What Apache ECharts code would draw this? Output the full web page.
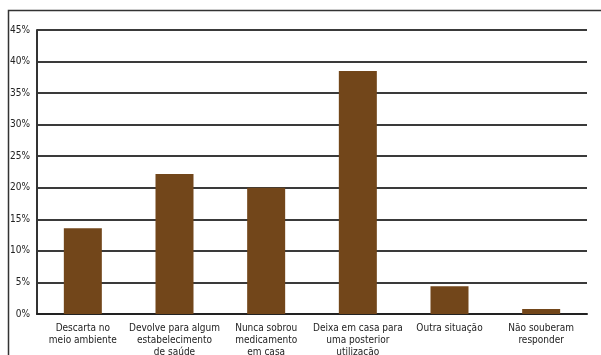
<!DOCTYPE html>
<html>
<head>
<meta charset="utf-8">
<script src="https://cdn.jsdelivr.net/npm/echarts@6/dist/echarts.min.js"></script>
<style>
  html, body { margin: 0; padding: 0; background: #fff; }
  #chart { width: 601px; height: 355px; }
</style>
</head>
<body>
<div id="chart"></div>
<script>
// categorias e percentuais
const categories = [
  'Descarta no\nmeio ambiente',
  'Devolve para algum\nestabelecimento\nde saúde',
  'Nunca sobrou\nmedicamento\nem casa',
  'Deixa em casa para\numa posterior\nutilização',
  'Outra situação',
  'Não souberam\nresponder'
];
const values = [13.6, 22.2, 20.0, 38.5, 4.4, 0.8];

const chart = echarts.init(document.getElementById('chart'));

const option = {
  animation: false,
  textStyle: { fontFamily: 'DejaVu Sans Condensed' },
  grid: { left: 37, right: 14, top: 30, bottom: 41, outerBoundsMode: 'none' },
  // moldura externa
  graphic: [{
    type: 'rect',
    shape: { x: 8.5, y: 10.5, width: 1000, height: 1000 },
    style: { fill: 'none', stroke: '#333', lineWidth: 1.5 },
    silent: true
  }],
  xAxis: {
    type: 'category',
    data: categories,
    axisLine: { lineStyle: { color: '#222', width: 2 } },
    axisTick: { show: false },
    axisLabel: { color: '#222', fontSize: 10, lineHeight: 12, margin: 8, interval: 0 }
  },
  yAxis: {
    type: 'value',
    min: 0,
    max: 45,
    interval: 5,
    axisLine: { show: true, lineStyle: { color: '#333', width: 2 } },
    axisTick: { show: false },
    axisLabel: { color: '#222', fontSize: 10, margin: 7, formatter: '{value}%' },
    splitLine: { lineStyle: { color: '#3a3a3a', width: 2 } }
  },
  series: [{
    type: 'bar',
    data: values,
    barWidth: 38,
    itemStyle: { color: '#72461A' }
  }]
};

chart.setOption(option);
</script>
</body>
</html>
